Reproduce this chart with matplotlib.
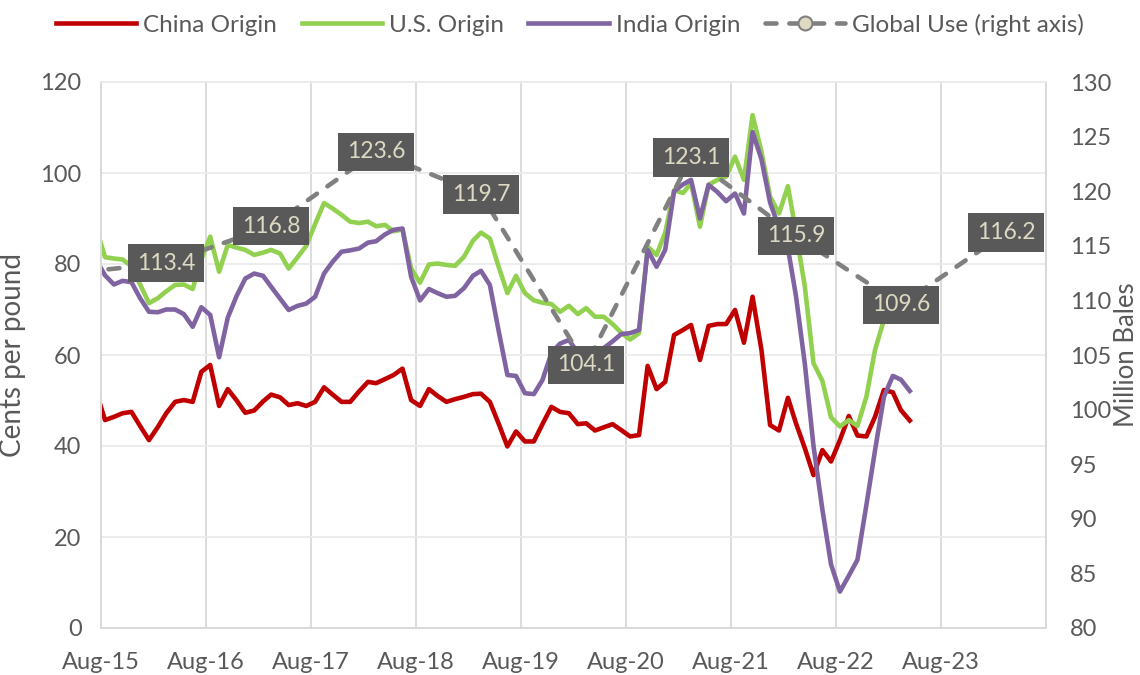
import matplotlib
matplotlib.use("Agg")
import matplotlib.pyplot as plt
import pandas as pd

plt.rcParams["font.family"] = ["Lato", "DejaVu Sans"]

# monthly prices, cents per pound, Jul-15 .. Apr-23 (Jul-15 sits left of the axis and is clipped)
china = [
    52.0,
    45.7, 46.4, 47.2, 47.5, 44.4, 41.3, 44.2, 47.2, 49.7, 50.1,
    49.7, 56.3, 57.8, 48.8, 52.5, 50.0, 47.3, 47.8, 49.8, 51.3,
    50.7, 49.0, 49.4, 48.8, 49.7, 52.9, 51.3, 49.7, 49.7, 52.0,
    54.1, 53.8, 54.7, 55.6, 57.0, 50.1, 48.8, 52.5, 51.0, 49.7,
    50.3, 50.8, 51.4, 51.5, 49.7, 45.0, 39.9, 43.2, 41.0, 41.0,
    44.8, 48.6, 47.5, 47.2, 44.8, 45.0, 43.4, 44.1, 44.8, 43.5,
    42.1, 42.4, 57.6, 52.5, 54.1, 64.4, 65.5, 66.6, 58.9, 66.4,
    66.8, 66.8, 69.9, 62.7, 72.8, 61.1, 44.6, 43.4, 50.6, 45.0,
    39.5, 33.6, 39.1, 36.6, 41.3, 46.6, 42.3, 42.1, 46.4, 52.3,
    51.8, 47.9, 45.6,
]
us = [
    88.0,
    81.5, 81.2, 81.0, 79.5, 75.5, 71.4, 72.5, 74.0, 75.4, 75.5,
    74.5, 81.0, 86.0, 78.3, 84.2, 83.6, 83.1, 82.0, 82.5, 83.1,
    82.3, 79.0, 81.5, 84.0, 88.8, 93.4, 92.2, 90.8, 89.3, 89.0,
    89.3, 88.3, 88.6, 87.2, 87.6, 79.0, 75.9, 79.9, 80.1, 79.8,
    79.6, 81.6, 85.1, 86.9, 85.6, 79.5, 73.6, 77.4, 73.6, 72.0,
    71.5, 71.2, 69.5, 70.8, 69.0, 70.3, 68.4, 68.4, 66.8, 64.9,
    63.4, 64.8, 83.8, 82.0, 86.9, 96.2, 95.6, 97.8, 88.2, 97.4,
    98.5, 99.2, 103.6, 98.5, 112.7, 104.7, 94.8, 91.1, 97.1, 87.0,
    75.0, 58.2, 54.3, 46.3, 44.3, 45.7, 44.4, 50.8, 61.1, 67.7,
    71.5, 73.0, 72.0,
]
india = [
    81.0,
    77.5, 75.5, 76.3, 76.0, 72.5, 69.5, 69.4, 70.0, 70.0, 69.0,
    66.2, 70.5, 68.8, 59.5, 68.2, 73.0, 76.8, 77.9, 77.4, 75.0,
    72.4, 69.9, 70.8, 71.3, 72.8, 77.9, 80.5, 82.7, 83.0, 83.4,
    84.7, 85.0, 86.5, 87.5, 87.8, 77.2, 72.0, 74.5, 73.6, 72.8,
    73.0, 74.7, 77.4, 78.5, 75.4, 65.5, 55.6, 55.4, 51.6, 51.4,
    54.5, 60.4, 62.5, 63.3, 60.5, 60.0, 60.5, 61.5, 63.0, 64.6,
    64.8, 65.5, 83.1, 79.4, 83.1, 96.0, 97.5, 98.5, 90.0, 97.4,
    95.8, 93.8, 95.5, 91.1, 109.0, 103.0, 93.5, 88.0, 83.5, 73.0,
    58.0, 40.0, 26.0, 14.0, 8.0, 11.5, 15.0, 27.0, 39.0, 50.8,
    55.4, 54.6, 52.1,
]

# global use, million bales, one point per year (first one falls left of the axis)
use_years = [2015, 2016, 2017, 2018, 2019, 2020, 2021, 2022, 2023, 2024]
use_vals = [112.4, 113.4, 116.8, 123.6, 119.7, 104.1, 123.1, 115.9, 109.6, 116.2]

months = pd.date_range("2015-07-01", periods=len(china), freq="MS") + pd.Timedelta(days=14)
use_dates = pd.to_datetime([f"{y}-03-15" for y in use_years])

TXT = "#595959"
fig = plt.figure(figsize=(11.4, 6.75), dpi=100)
ax = fig.add_axes([101 / 1140, 1 - 628 / 675, 945 / 1140, 546 / 675])
ax2 = ax.twinx()

lw = 3.3
l1, = ax.plot(months, china, color="#C00000", lw=lw, solid_joinstyle="round", label="China Origin")
l2, = ax.plot(months, us, color="#92D050", lw=lw, solid_joinstyle="round", label="U.S. Origin")
l3, = ax.plot(months, india, color="#8064A2", lw=lw, solid_joinstyle="round", label="India Origin")
l4, = ax2.plot(use_dates, use_vals, color="#808080", lw=3.3, dashes=(2.4, 2.8),
               dash_capstyle="round", marker="o", ms=10, mfc="#DDD9C3", mec="#808080",
               mew=1.5, label="Global Use (right axis)")

for d, v in zip(use_dates[1:], use_vals[1:]):
    ax2.text(d, v, f"{v:.1f}", ha="center", va="center", fontsize=16.5, color="#DDD9C3",
             zorder=10, bbox=dict(boxstyle="square,pad=0.38", fc="#595959", ec="none"))

ax.set_xlim(pd.Timestamp("2015-08-01"), pd.Timestamp("2024-08-01"))
ticks = pd.date_range("2015-08-01", "2024-08-01", freq="12MS")
ax.set_xticks(ticks)
ax.set_xticklabels([t.strftime("%b-%y") for t in ticks[:-1]] + [""])
ax.set_ylim(0, 120)
ax.set_yticks(range(0, 121, 20))
ax2.set_ylim(80, 130)
ax2.set_yticks(range(80, 131, 5))

ax.grid(axis="x", color="#D9D9D9", lw=1.3)
ax.grid(axis="y", color="#EBEBEB", lw=1.3)
ax.set_axisbelow(True)
for a in (ax, ax2):
    for s in a.spines.values():
        s.set_color("#D9D9D9")
        s.set_linewidth(1.3)
    a.spines["top"].set_color("#EBEBEB")
    a.tick_params(length=0, labelsize=17, labelcolor=TXT)
ax.tick_params(axis="x", pad=17)
ax.tick_params(axis="y", pad=14)
ax2.tick_params(axis="y", pad=17)

ax.set_ylabel("Cents per pound", fontsize=20, color=TXT, labelpad=10)
ax2.set_ylabel("Million Bales", fontsize=18.5, color=TXT, labelpad=2)

fig.legend(handles=[l1, l2, l3, l4], loc="upper center", bbox_to_anchor=(0.5, 1.012), ncol=4,
           frameon=False, fontsize=17.5, labelcolor=TXT, handlelength=3.3,
           handletextpad=0.3, columnspacing=1.0)

fig.savefig("out.png", dpi=100)
